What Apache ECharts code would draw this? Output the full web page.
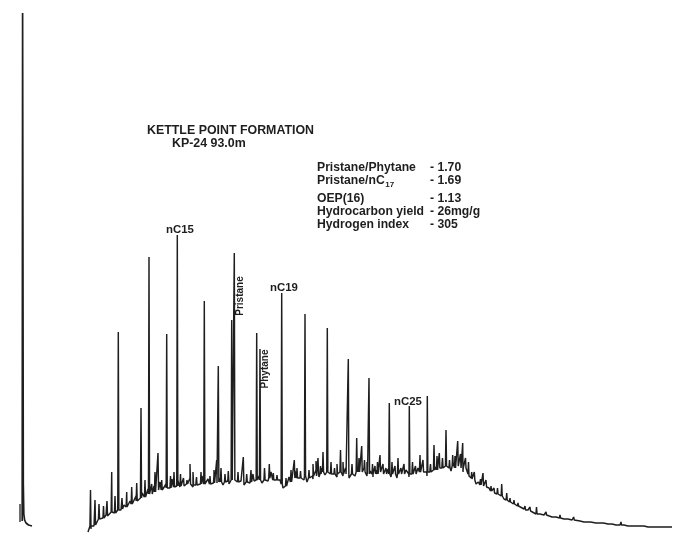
<!DOCTYPE html>
<html>
<head>
<meta charset="utf-8">
<script src="https://cdn.jsdelivr.net/npm/echarts@6/dist/echarts.min.js"></script>
<style>
  html, body { margin: 0; padding: 0; background: #ffffff; }
  #chart { width: 673px; height: 534px; }
</style>
</head>
<body>
<div id="chart"></div>
<script>
// Gas chromatogram, saturate fraction — Kettle Point Formation, KP-24 93.0m
// Retention axis and detector response in arbitrary units.

// Injection mark and solvent front
const injectionMark = [[20, 12], [20, 30]];
const solventPeak = [[22.2, 13], [22.6, 521], [23.3, 50], [23.8, 20], [24.6, 14], [26, 11], [28.5, 9], [32, 8]];

// Unresolved baseline (hump + noise), sampled every 3 units from 88
const baseStart = 88;
const baseStep = 3;
const baseline = [
  2, 5, 8, 12, 15, 14, 19, 17, 22, 20, 25, 24, 29, 27, 33, 30, 38, 34, 41, 37,
  45, 40, 48, 43, 52, 44, 50, 47, 55, 46, 53, 48, 57, 50, 56, 47, 52, 49, 58, 48,
  55, 50, 59, 51, 56, 49, 54, 50, 62, 55, 50, 53, 49, 56, 51, 60, 52, 58, 51, 57,
  53, 62, 55, 59, 54, 46, 48, 57, 55, 63, 56, 61, 54, 52, 58, 55, 64, 57, 66, 59,
  63, 58, 62, 57, 65, 58, 63, 56, 61, 58, 67, 60, 66, 58, 63, 57, 64, 59, 62, 58,
  65, 57, 61, 56, 62, 58, 64, 57, 63, 59, 66, 60, 62, 58, 65, 61, 67, 62, 70, 64,
  68, 63, 71, 65, 69, 62, 66, 58
];

// Tail after the hump, sampled every 4 units from 472
const tailStart = 472;
const tailStep = 4;
const tail = [
  55, 50, 52, 46, 47, 42, 40, 38, 35, 33, 31, 28, 27, 25, 24, 22, 21, 20, 19, 18,
  17, 17, 16, 15, 15, 14, 14, 13, 12, 12, 11, 11, 11, 10, 10, 10, 9, 9, 9, 8,
  8, 8, 8, 8, 7, 7, 7, 7, 7, 7, 7
];

// Resolved peaks: [retention, apex response, response at the foot]
const peaks = [
  [90.5, 44, 8], [95, 34, 9], [111.7, 62, 22], [118.3, 202, 24], [136.7, 51, 33], [141, 126, 36],
  [149, 277, 40], [158, 81, 44], [166.7, 200, 46], [177.3, 299, 48], [187, 54, 50], [204.3, 233, 50],
  [218.3, 168, 52], [231.7, 214, 54], [234.3, 281, 54], [243.3, 77, 52], [256.7, 201, 54], [260, 185, 54],
  [269.3, 70, 56], [281.7, 241, 50], [294.3, 74, 56], [305, 220, 58], [318, 76, 60], [323, 82, 62],
  [327.3, 206, 62], [340.5, 84, 62], [348.3, 175, 60], [356.7, 96, 62], [361.7, 88, 62], [369, 156, 60],
  [380, 79, 62], [389.3, 131, 60], [398, 76, 60], [409.3, 128, 60], [420, 79, 62], [427.3, 138, 62],
  [434, 89, 64], [439.3, 81, 66], [446, 104, 68], [452.7, 79, 68], [457.7, 93, 68], [462.7, 91, 66],
  [471.7, 62, 56], [474.3, 62, 54], [478.3, 52, 50], [483, 61, 48], [488.5, 49, 46], [501.7, 50, 38],
  [506.7, 41, 34], [518, 31, 28], [536.5, 27, 20], [573.7, 17, 14], [621, 12, 9]
];

// Minor unresolved components riding on the hump: [retention, apex, foot]
const minorPeaks = [
  [99, 30, 15], [103.5, 28, 16], [107, 33, 18], [115, 38, 21], [122, 36, 25], [126.7, 42, 27],
  [131.7, 47, 30], [145, 54, 37], [151.7, 50, 40], [155, 62, 42], [161.7, 54, 44], [170.5, 58, 46],
  [174, 62, 47], [180.5, 60, 47], [183.5, 56, 48], [190, 70, 50], [193, 62, 49], [196.5, 57, 49],
  [201, 62, 50], [210, 58, 50], [214, 64, 51], [216.7, 74, 52], [221, 66, 52], [225, 60, 52],
  [228.3, 63, 53], [238, 62, 52], [246.7, 60, 52], [251, 64, 52], [253.5, 58, 53], [264.5, 66, 54],
  [273.3, 61, 54], [277, 58, 54], [286, 56, 48], [291, 64, 52], [297, 66, 56], [300.5, 63, 56],
  [309, 64, 56], [313, 70, 58], [316, 73, 58], [320.5, 68, 60], [331, 72, 60], [334.5, 66, 60],
  [337, 70, 60], [343, 72, 60], [345.5, 66, 60], [352, 70, 60], [359, 76, 62], [364.5, 74, 62],
  [367, 72, 60], [372.5, 70, 60], [375, 68, 60], [377.5, 72, 60], [383, 70, 60], [386, 66, 60],
  [392, 72, 60], [395, 68, 60], [401, 66, 60], [404, 70, 60], [412.5, 72, 60], [415.5, 68, 60],
  [423, 74, 62], [430.5, 70, 62], [437, 78, 64], [442.5, 76, 66], [449.5, 74, 66], [455, 78, 66],
  [460.5, 80, 66], [465.5, 76, 64], [468.5, 72, 60], [480.5, 55, 49], [486, 54, 47], [491, 48, 43],
  [494, 46, 41], [497.5, 46, 40], [510, 36, 32], [514, 34, 30], [525, 28, 24], [530, 27, 23],
  [546, 22, 19], [560, 19, 16], [590, 14, 12], [604, 13, 11], [645, 10, 8]
];

// Peak identifications
const peakLabels = ['nC15', 'Pristane', 'Phytane', 'nC19', 'nC25'];

// Summary parameters
const paramNames = ['Pristane/Phytane', 'Pristane/nC', 'OEP(16)', 'Hydrocarbon yield', 'Hydrogen index'];
const paramSub = ['', '17', '', '', ''];
const paramValues = ['- 1.70', '- 1.69', '- 1.13', '- 26mg/g', '- 305'];

// Assemble the trace: baseline samples merged with each peak (foot, apex, foot)
const halfWidth = 0.55;
const trace = [];
baseline.forEach((v, i) => trace.push([baseStart + i * baseStep, v]));
tail.forEach((v, i) => trace.push([tailStart + i * tailStep, v]));
peaks.concat(minorPeaks).forEach(p => {
  trace.push([p[0] - halfWidth, p[2]]);
  trace.push([p[0], p[1]]);
  trace.push([p[0] + halfWidth, p[2]]);
});
trace.sort((a, b) => a[0] - b[0]);

const family = '"Liberation Sans", Arial, sans-serif';
const ink = '#1e1e1e';

const measureCtx = document.createElement('canvas').getContext('2d');
function textWidth(s, font) { measureCtx.font = font; return measureCtx.measureText(s).width; }

function txt(text, x, y, font, extra) {
  return Object.assign({
    type: 'text',
    x: x, y: y,
    style: {
      text: text,
      fill: ink,
      font: font,
      textAlign: (extra && extra.align) || 'left',
      textVerticalAlign: 'middle'
    }
  }, (extra && extra.props) || {});
}

const titleFont = 'bold 12.4px ' + family;
const paramFont = 'bold 12.2px ' + family;
const labelFont = 'bold 11.4px ' + family;
const vertFont = 'bold 10px ' + family;

const rowY = [168, 181, 199, 212, 225];
const nameX = 317;
const valueX = 430;

const graphics = [
  txt('KETTLE POINT FORMATION', 147, 131, titleFont),
  txt('KP-24 93.0m', 172, 144, titleFont),
  txt(peakLabels[0], 166, 230, labelFont),
  txt(peakLabels[1], 240, 296, vertFont, { align: 'center', props: { rotation: Math.PI / 2 } }),
  txt(peakLabels[2], 265, 369, vertFont, { align: 'center', props: { rotation: Math.PI / 2 } }),
  txt(peakLabels[3], 270, 288, labelFont),
  txt(peakLabels[4], 394, 402, labelFont)
];
paramNames.forEach((n, i) => {
  graphics.push(txt(n, nameX, rowY[i], paramFont));
  if (paramSub[i]) {
    const w = textWidth(n, paramFont);
    graphics.push(txt(paramSub[i], nameX + w + 0.5, rowY[i] + 4, 'bold 8px ' + family));
  }
  graphics.push(txt(paramValues[i], valueX, rowY[i], paramFont));
});

const chart = echarts.init(document.getElementById('chart'), null, { renderer: 'canvas' });
chart.setOption({
  animation: false,
  backgroundColor: '#ffffff',
  grid: { left: 0, right: 0, top: 0, bottom: 0 },
  xAxis: { type: 'value', min: 0, max: 673, show: false },
  yAxis: { type: 'value', min: 0, max: 534, show: false },
  series: [
    { type: 'line', data: injectionMark, showSymbol: false, lineStyle: { color: ink, width: 1.3 } },
    { type: 'line', data: solventPeak, showSymbol: false, lineStyle: { color: ink, width: 1.7 } },
    { type: 'line', data: trace, showSymbol: false, lineStyle: { color: ink, width: 1.45 } }
  ],
  graphic: graphics
});
</script>
</body>
</html>
